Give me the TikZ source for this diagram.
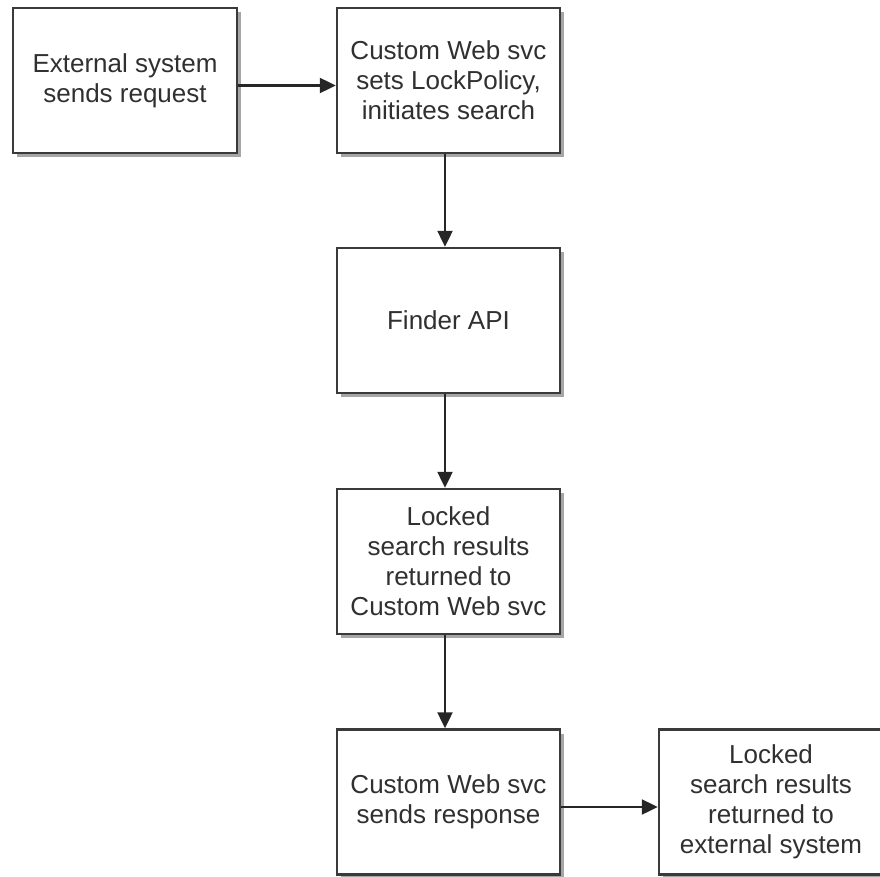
\documentclass[tikz,border=0pt]{standalone}
\usepackage{fontspec}
\setmainfont{Liberation Sans}
\usetikzlibrary{arrows.meta,shadows}
\definecolor{boxline}{HTML}{3A3A3A}
\definecolor{txt}{HTML}{303030}
\begin{document}
\begin{tikzpicture}[x=1pt,y=-1pt,
  stepbox/.style={draw=boxline, line width=2.4pt, fill=white,
    minimum width=223pt, minimum height=145pt, inner sep=0pt,
    align=center, text=txt,
    font=\fontsize{26pt}{30pt}\selectfont,
    drop shadow={shadow xshift=4pt, shadow yshift=-4pt, fill=black!35, opacity=1}},
  arr/.style={draw=black!85, line width=2.2pt, -{Triangle[length=16pt,width=15pt]}}]
\useasboundingbox (0,0) rectangle (880,877);
\begin{scope}
\clip (0,0) rectangle (880,877);
\node[stepbox, minimum width=224pt] (b1) at (125,80.5) {External system\\sends request};
\node[stepbox] (b2) at (448.5,80.5) {Custom Web svc\\sets LockPolicy,\\initiates search};
\node[stepbox] (b3) at (448.5,320.5) {Finder API};
\node[stepbox] (b4) at (448.5,561.5) {Locked\\search results\\returned to\\Custom Web svc};
\node[stepbox] (b5) at (448.5,802) {Custom Web svc\\sends response};
\node[stepbox, minimum width=224pt] (b6) at (771,802) {Locked\\search results\\returned to\\external system};
\draw[arr] ([yshift=-5pt]b1.east) -- ([yshift=-5pt]b1.east -| b2.west);
\draw[arr] ([xshift=-3.5pt]b2.south) -- ([xshift=-3.5pt]b3.north);
\draw[arr] ([xshift=-3.5pt]b3.south) -- ([xshift=-3.5pt]b4.north);
\draw[arr] ([xshift=-3.5pt]b4.south) -- ([xshift=-3.5pt]b5.north);
\draw[arr] ([yshift=-5pt]b5.east) -- ([yshift=-5pt]b5.east -| b6.west);
\end{scope}
\end{tikzpicture}
\end{document}
